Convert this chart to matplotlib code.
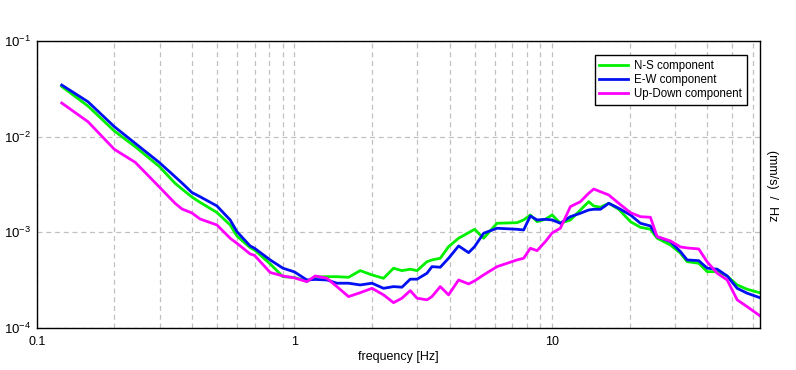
"""
Ground vibration spectra - three components, log-log plot
"""

import numpy as np
import matplotlib.pyplot as plt
from matplotlib.ticker import LogLocator, NullFormatter, FixedLocator

# frequency points (Hz)
freq = [0.125, 0.158, 0.200, 0.241, 0.299, 0.344, 0.366, 0.400, 0.430, 0.500,
        0.563, 0.598, 0.673, 0.700, 0.805, 0.902, 1.00, 1.117, 1.203, 1.336,
        1.461, 1.621, 1.799, 2.00, 2.216, 2.424, 2.613, 2.814, 2.99, 3.268,
        3.417, 3.68, 3.963, 4.335, 4.741, 5.00, 5.42, 6.11, 7.31, 7.75,
        8.23, 8.74, 9.41, 10.0, 10.76, 11.77, 12.87, 13.86, 14.50, 15.39,
        16.58, 18.13, 20.13, 22.0, 24.06, 25.55, 28.77, 31.47, 33.41, 37.06,
        39.96, 43.70, 47.77, 52.24, 57.14, 63.8]

ns_comp = [0.0335, 0.02093, 0.01147, 0.00786, 0.00488, 0.00326, 0.00284, 0.00234, 0.00206, 0.001614,
           0.001195, 0.000917, 0.000692, 0.000655, 0.000468, 0.000344, 0.000338, 0.000307, 0.000342, 0.000344,
           0.000344, 0.000339, 0.000398, 0.000359, 0.000331, 0.000422, 0.000398, 0.000412, 0.000398, 0.000494,
           0.000515, 0.000536, 0.000709, 0.000868, 0.000993, 0.001077, 0.000868, 0.001245, 0.001263, 0.001348,
           0.001520, 0.001294, 0.001370, 0.001520, 0.001245, 0.001348, 0.001714, 0.002093, 0.001890, 0.001830,
           0.002014, 0.001743, 0.001294, 0.001130, 0.001077, 0.000868, 0.000738, 0.000605, 0.000494, 0.000475,
           0.000388, 0.000388, 0.000350, 0.000282, 0.000254, 0.000234]

ew_comp = [0.0347, 0.02321, 0.01273, 0.00853, 0.00537, 0.00382, 0.00328, 0.00261, 0.00236, 0.00189,
           0.001348, 0.001017, 0.000721, 0.000682, 0.000515, 0.000422, 0.000386, 0.000318, 0.000322, 0.000318,
           0.000294, 0.000294, 0.000282, 0.000294, 0.000260, 0.000271, 0.000267, 0.000324, 0.000324, 0.000374,
           0.000438, 0.000432, 0.000536, 0.000721, 0.000614, 0.000709, 0.000979, 0.001104, 0.001077, 0.001059,
           0.001484, 0.001348, 0.001370, 0.001348, 0.001245, 0.001459, 0.001584, 0.001714, 0.001743, 0.001743,
           0.002014, 0.001786, 0.001520, 0.001245, 0.001167, 0.000902, 0.000800, 0.000629, 0.000515, 0.000506,
           0.000422, 0.000412, 0.000350, 0.000260, 0.000231, 0.000208]

ud_comp = [0.02250, 0.01435, 0.00738, 0.00540, 0.00298, 0.002014, 0.001756, 0.001595, 0.001380, 0.001195,
           0.000868, 0.000769, 0.000595, 0.000574, 0.000381, 0.000350, 0.000334, 0.000305, 0.000350, 0.000331,
           0.000271, 0.000213, 0.000234, 0.000260, 0.000222, 0.000184, 0.000205, 0.000246, 0.000205, 0.000197,
           0.000213, 0.000271, 0.000222, 0.000318, 0.000289, 0.000311, 0.000359, 0.000438, 0.000515, 0.000536,
           0.000682, 0.000644, 0.000800, 0.000986, 0.001104, 0.001857, 0.002093, 0.002563, 0.00284, 0.002662,
           0.00246, 0.002014, 0.001607, 0.001459, 0.001438, 0.000902, 0.000813, 0.000704, 0.000687, 0.000671,
           0.000491, 0.000374, 0.000318, 0.000197, 0.000167, 0.000135]

y_ticks = [1e-4, 1e-3, 1e-2, 1e-1]
y_labels = [r'$10^{-4}$', r'$10^{-3}$', r'$10^{-2}$', r'$10^{-1}$']

plt.rcParams['font.family'] = ['Liberation Sans', 'DejaVu Sans']
plt.rcParams['mathtext.default'] = 'regular'
plt.rcParams['font.size'] = 9

fig = plt.figure(figsize=(7.96, 3.70), dpi=100)
ax = fig.add_axes([0.0462, 0.1135, 0.9080, 0.7755])

ax.plot(freq, ns_comp, color='#00f000', lw=2.0, label='N-S component')
ax.plot(freq, ew_comp, color='#0010f0', lw=2.0, label='E-W component')
ax.plot(freq, ud_comp, color='#ff00ff', lw=2.0, label='Up-Down component')

ax.set_xscale('log')
ax.set_yscale('log')
ax.set_xlim(0.1, 63.8)
ax.set_ylim(1e-4, 1e-1)

ax.xaxis.set_major_locator(FixedLocator([0.1, 1, 10]))
ax.xaxis.set_major_formatter(plt.FixedFormatter(['0.1', '1', '10']))
ax.xaxis.set_minor_locator(LogLocator(base=10, subs=np.arange(2, 10), numticks=20))
ax.xaxis.set_minor_formatter(NullFormatter())
ax.yaxis.set_major_locator(FixedLocator(y_ticks))
ax.yaxis.set_major_formatter(plt.FixedFormatter(y_labels))
ax.yaxis.set_minor_locator(plt.NullLocator())

ax.tick_params(which='both', length=0)
ax.tick_params(axis='x', pad=6, labelsize=9)
ax.tick_params(axis='y', pad=4, labelsize=9.5)

ax.grid(True, which='major', color='#c0c0c0', linestyle=(0, (4, 3)), lw=0.9)
ax.grid(True, which='minor', axis='x', color='#c0c0c0', linestyle=(0, (4, 3)), lw=0.9)
ax.set_axisbelow(True)

for sp in ax.spines.values():
    sp.set_color('black')
    sp.set_linewidth(1.0)

ax.set_xlabel('frequency [Hz]', labelpad=2)
fig.text(0.970, 0.497, '(mm/s)  /  Hz', rotation=270, ha='center', va='center')

leg = ax.legend(loc='upper right', bbox_to_anchor=(0.982, 0.951), borderaxespad=0,
                fontsize=8.3, fancybox=False, framealpha=1, edgecolor='black',
                handlelength=2.5, handletextpad=0.5, labelspacing=0.2, borderpad=0.4)
leg.get_frame().set_linewidth(1.0)

plt.savefig('out.png', dpi=100)
